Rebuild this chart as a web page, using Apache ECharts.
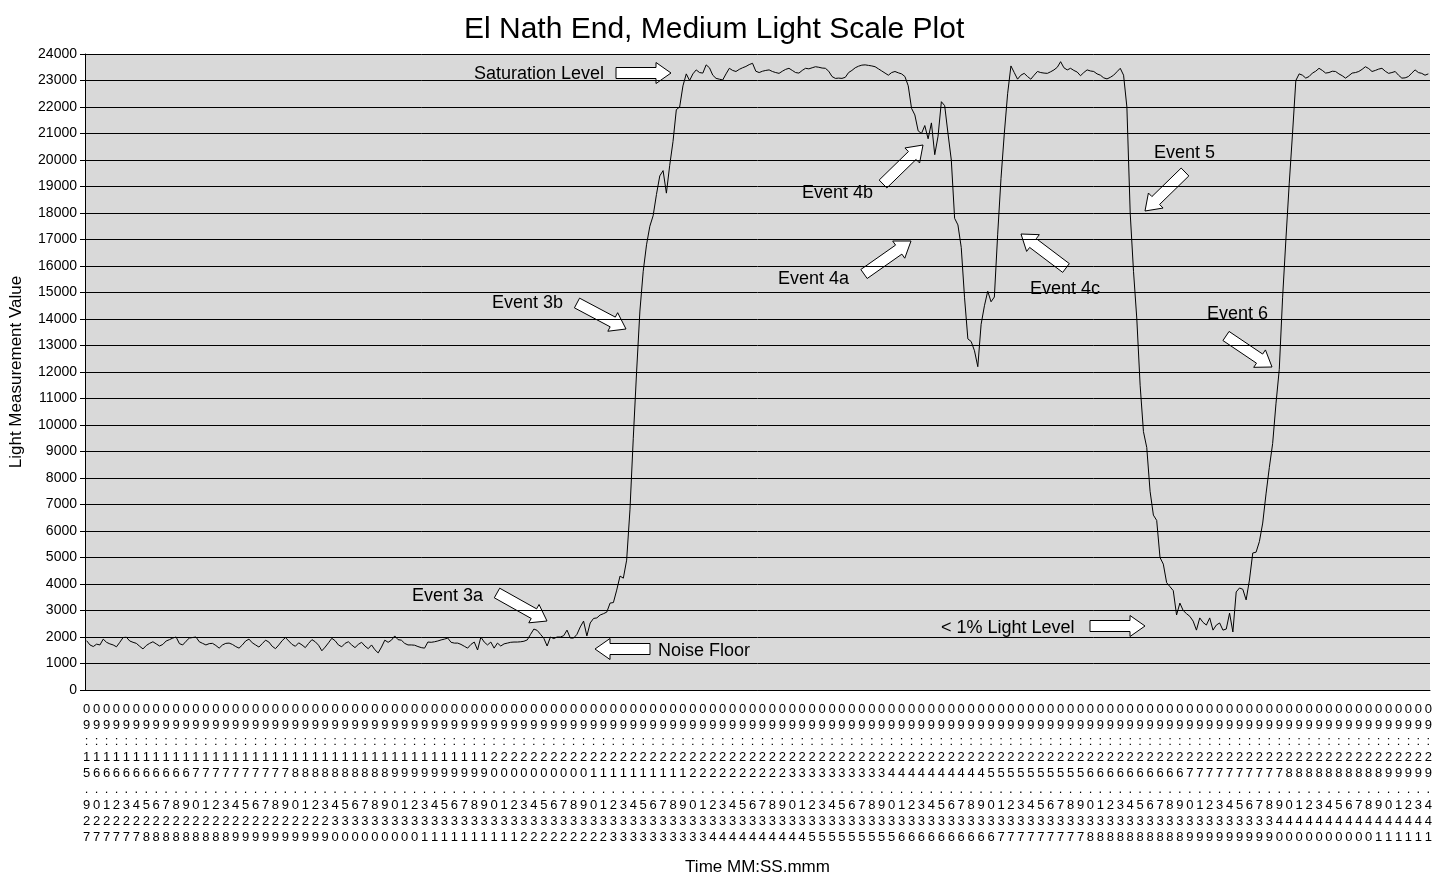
<!DOCTYPE html>
<html>
<head>
<meta charset="utf-8">
<title>El Nath End, Medium Light Scale Plot</title>
<script src="https://cdn.jsdelivr.net/npm/echarts@6.0.0/dist/echarts.min.js"></script>
<style>
  html, body { margin: 0; padding: 0; background: #fff; }
  #chart { width: 1443px; height: 888px; }
</style>
</head>
<body>
<div id="chart"></div>
<script>
// tick labels, one for every 3rd sample (MM:SS.mmm)
const timeLabels = [
  "09:15.927",
  "09:16.027","09:16.127","09:16.227","09:16.327","09:16.427","09:16.528","09:16.628","09:16.728","09:16.828","09:16.928",
  "09:17.028","09:17.128","09:17.228","09:17.328","09:17.429","09:17.529","09:17.629","09:17.729","09:17.829","09:17.929",
  "09:18.029","09:18.129","09:18.229","09:18.329","09:18.430","09:18.530","09:18.630","09:18.730","09:18.830","09:18.930",
  "09:19.030","09:19.130","09:19.230","09:19.331","09:19.431","09:19.531","09:19.631","09:19.731","09:19.831","09:19.931",
  "09:20.031","09:20.131","09:20.231","09:20.332","09:20.432","09:20.532","09:20.632","09:20.732","09:20.832","09:20.932",
  "09:21.032","09:21.132","09:21.233","09:21.333","09:21.433","09:21.533","09:21.633","09:21.733","09:21.833","09:21.933",
  "09:22.033","09:22.133","09:22.234","09:22.334","09:22.434","09:22.534","09:22.634","09:22.734","09:22.834","09:22.934",
  "09:23.034","09:23.134","09:23.235","09:23.335","09:23.435","09:23.535","09:23.635","09:23.735","09:23.835","09:23.935",
  "09:24.035","09:24.136","09:24.236","09:24.336","09:24.436","09:24.536","09:24.636","09:24.736","09:24.836","09:24.936",
  "09:25.036","09:25.137","09:25.237","09:25.337","09:25.437","09:25.537","09:25.637","09:25.737","09:25.837","09:25.937",
  "09:26.038","09:26.138","09:26.238","09:26.338","09:26.438","09:26.538","09:26.638","09:26.738","09:26.838","09:26.938",
  "09:27.039","09:27.139","09:27.239","09:27.339","09:27.439","09:27.539","09:27.639","09:27.739","09:27.839","09:27.940",
  "09:28.040","09:28.140","09:28.240","09:28.340","09:28.440","09:28.540","09:28.640","09:28.740","09:28.840","09:28.941",
  "09:29.041","09:29.141","09:29.241","09:29.341","09:29.441"
];
const samplesPerLabel = 3;

// light readings, split by phase of the recording
const noiseFloor = [
  1860,1700,1640,1730,1700,1920,1800,1740,1700,1630,
  1800,1980,1990,1850,1800,1760,1650,1550,1680,1760,
  1820,1740,1660,1720,1850,1900,1960,2000,1750,1700,
  1840,1960,1980,2000,1820,1760,1700,1750,1760,1680,
  1580,1700,1760,1770,1720,1640,1580,1700,1850,1920,
  1780,1700,1620,1750,1880,1810,1650,1560,1700,1860,
  1980,1850,1720,1650,1780,1700,1600,1760,1900,1820,
  1690,1480,1620,1780,1950,1860,1700,1630,1760,1820,
  1700,1600,1720,1800,1660,1560,1700,1520,1400,1620,
  1880,1800,1880,2040,1900,1880,1760,1700,1700,1690,
  1640,1600,1580,1810,1800,1820,1850,1890,1920,1960,
  1800,1770,1770,1720,1650,1580,1720,1810,1510,2000,
  1810,1700,1810,1580,1770,1660,1740,1770,1800,1810,
  1810,1820,1840
];
const event3Rise = [
  1890,2100,2300,2250,2100,1950,1660,2000,1940,2000,
  2000,2050,2260,1960,1960,2100,2380,2600,2040,2530,
  2700,2720,2830,2880,2940,3280,3300,3770,4300,4220,
  4900,6800,9500,12000,14300,15800,16800,17500,17900,18700,
  19400,19600,18750,19800,20700,21900,22000,22800,23250
];
const saturation1 = [
  23000,23250,23400,23300,23280,23590,23480,23200,23080,23050,
  23020,23250,23460,23380,23340,23420,23480,23530,23600,23650,
  23350,23300,23350,23380,23400,23340,23300,23270,23350,23420,
  23460,23380,23300,23280,23380,23460,23440,23480,23520,23500,
  23470,23460,23350,23150,23080,23090,23080,23120,23300,23380,
  23480,23540,23580,23590,23570,23550,23520,23440,23360,23280,
  23200,23300,23340,23290,23250,23150
];
const event4Dip = [
  22800,21950,21700,21100,21000,21300,20800,21400,20200,20900,
  22200,22050,21000,20000,17800,17550,16700,14800,13250,13150,
  12800,12200,13800,14500,15050,14650,14830,17200,19300,21000,
  22500,23550,23300,23050,23200
];
const saturation2 = [
  23270,23150,23050,23200,23340,23300,23280,23270,23330,23400,
  23500,23710,23480,23400,23460,23380,23320,23180,23300,23400,
  23360,23340,23250,23200,23100,23060,23120,23200,23330,23460,
  23200
];
const event5To6 = [
  22000,18000,15800,14000,11500,9750,9150,7500,6600,6400,
  5000,4750,4050,3900,3750,2830,3280,3000,2880,2780,
  2600,2260,2720,2550,2450,2720,2260,2450,2530,2260,
  2300,2900,2190,3700,3850,3800,3400,4150,5170,5200,
  5600,6300,7400,8400,9300,10800,12100,14800,17000,19100,
  21000,23000,23250
];
const saturation3 = [
  23200,23090,23150,23280,23350,23460,23380,23280,23300,23350,
  23340,23250,23180,23090,23180,23280,23300,23340,23420,23520,
  23450,23340,23380,23430,23460,23350,23270,23300,23340,23200,
  23090,23100,23150,23280,23400,23300,23270,23200,23250
];

const lightValues = [].concat(noiseFloor, event3Rise, saturation1, event4Dip,
  saturation2, event5To6, saturation3);

// one category per sample, label on every 3rd
const categories = lightValues.map((v, i) =>
  i % samplesPerLabel === 0 ? (timeLabels[i / samplesPerLabel] || '') : '');

// callouts: text + block arrow (tail -> tip), in pixels
const callouts = [
  { text: 'Saturation Level', x: 474, y: 73, from: [616, 73], to: [671, 73] },
  { text: 'Event 3b', x: 492, y: 302, from: [577, 303], to: [626, 329] },
  { text: 'Event 3a', x: 412, y: 595, from: [497, 593], to: [547, 621] },
  { text: 'Noise Floor', x: 658, y: 650, from: [650, 649], to: [595, 649] },
  { text: 'Event 4b', x: 802, y: 192, from: [883, 184], to: [923, 145] },
  { text: 'Event 4a', x: 778, y: 278, from: [864, 274], to: [911, 241] },
  { text: 'Event 4c', x: 1030, y: 288, from: [1066, 268], to: [1021, 234] },
  { text: 'Event 5', x: 1154, y: 152, from: [1185, 172], to: [1145, 211] },
  { text: 'Event 6', x: 1207, y: 313, from: [1226, 336], to: [1272, 367] },
  { text: '< 1% Light Level', x: 941, y: 627, from: [1090, 626], to: [1145, 626] }
];

const FONT = '"Liberation Sans", Arial, sans-serif';

//block arrow outline
function arrowPoints(p1, p2) {
  const dx = p2[0] - p1[0], dy = p2[1] - p1[1];
  const len = Math.hypot(dx, dy);
  const ux = dx / len, uy = dy / len, nx = -uy, ny = ux;
  const hl = 15, sw = 5.5, hw = 10.5;
  const bx = p2[0] - ux * hl, by = p2[1] - uy * hl;
  return [
    [p1[0] + nx * sw, p1[1] + ny * sw],
    [bx + nx * sw, by + ny * sw],
    [bx + nx * hw, by + ny * hw],
    [p2[0], p2[1]],
    [bx - nx * hw, by - ny * hw],
    [bx - nx * sw, by - ny * sw],
    [p1[0] - nx * sw, p1[1] - ny * sw]
  ];
}

const graphics = [];
callouts.forEach(c => {
  graphics.push({
    type: 'text',
    left: c.x,
    top: c.y - 8,
    style: { text: c.text, fill: '#000', fontSize: 18, fontFamily: FONT }
  });
  graphics.push({
    type: 'polygon',
    shape: { points: arrowPoints(c.from, c.to) },
    style: { fill: '#fff', stroke: '#000', lineWidth: 1 }
  });
});

const chartObj = echarts.init(document.getElementById('chart'));
chartObj.setOption({
  animation: false,
  backgroundColor: '#fff',
  textStyle: { fontFamily: FONT },
  title: {
    text: 'El Nath End, Medium Light Scale Plot',
    left: 459,
    top: 10,
    textStyle: { fontSize: 30, fontWeight: 'normal', color: '#000', fontFamily: FONT }
  },
  grid: {
    left: 85, right: 13, top: 54, bottom: 198,
    show: true, backgroundColor: '#d9d9d9', borderWidth: 0
  },
  xAxis: {
    type: 'category',
    data: categories,
    boundaryGap: true,
    name: 'Time MM:SS.mmm',
    nameLocation: 'middle',
    nameGap: 169,
    nameTextStyle: { fontSize: 17, color: '#000', fontFamily: FONT },
    axisLine: { lineStyle: { color: '#000', width: 1 } },
    axisTick: { interval: 0, length: 5, lineStyle: { color: '#000' } },
    axisLabel: {
      interval: samplesPerLabel - 1,
      color: '#000',
      fontSize: 13,
      lineHeight: 16,
      margin: 11,
      fontFamily: FONT,
      formatter: v => v ? v.split('').join('\n') : ''
    },
    splitLine: { show: false }
  },
  yAxis: {
    type: 'value',
    min: 0,
    max: 24000,
    interval: 1000,
    name: 'Light Measurement Value',
    nameLocation: 'middle',
    nameGap: 60,
    nameTextStyle: { fontSize: 17, color: '#000', fontFamily: FONT },
    axisLine: { show: true, lineStyle: { color: '#000', width: 1 } },
    axisTick: { show: true, length: 5, lineStyle: { color: '#000' } },
    axisLabel: {
      color: '#000', fontSize: 14, margin: 8, fontFamily: FONT,
      formatter: v => String(v)
    },
    splitLine: { lineStyle: { color: '#000', width: 1 } }
  },
  series: [{
    name: 'Light',
    type: 'line',
    data: lightValues,
    symbol: 'none',
    lineStyle: { color: '#000', width: 1 },
    z: 3
  }],
  graphic: graphics
});
</script>
</body>
</html>
